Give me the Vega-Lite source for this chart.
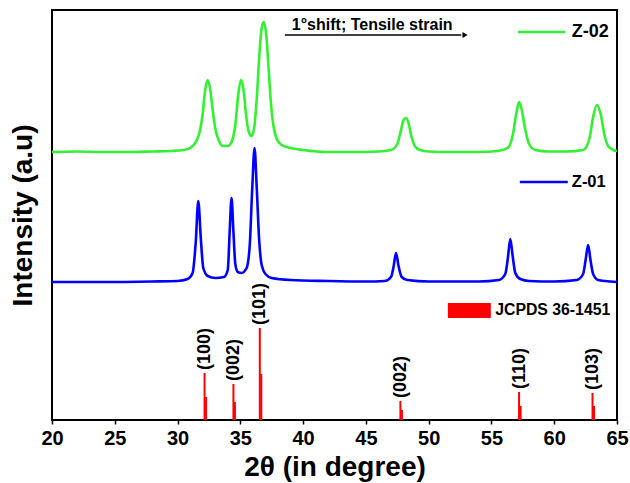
{
  "$schema": "https://vega.github.io/schema/vega-lite/v6.json",
  "width": 565,
  "height": 410,
  "autosize": "none",
  "padding": {"left": 52, "top": 10, "right": 13, "bottom": 63},
  "background": "white",
  "config": {
    "view": {"stroke": "black", "strokeWidth": 2},
    "font": "Liberation Sans",
    "axis": {
      "labelFont": "Liberation Sans", "labelFontWeight": "bold", "labelFontSize": 20, "labelColor": "black",
      "titleFont": "Liberation Sans", "titleFontWeight": "bold", "titleFontSize": 28, "titleColor": "black",
      "grid": false, "domain": false, "tickColor": "black", "tickWidth": 1.5, "labelFlush": false
    }
  },
  "datasets": {
    "curves": [
      {"s":"Z-02","x":20,"y":268},{"s":"Z-02","x":22,"y":268.5},{"s":"Z-02","x":24,"y":268},{"s":"Z-02","x":26,"y":268},{"s":"Z-02","x":28,"y":268.5},{"s":"Z-02","x":29.5,"y":269},{"s":"Z-02","x":30.5,"y":270},{"s":"Z-02","x":31.0,"y":272},{"s":"Z-02","x":31.5,"y":279},{"s":"Z-02","x":31.8,"y":290},{"s":"Z-02","x":32.0,"y":306},{"s":"Z-02","x":32.2,"y":330},{"s":"Z-02","x":32.4,"y":340},{"s":"Z-02","x":32.6,"y":331},{"s":"Z-02","x":32.8,"y":310},{"s":"Z-02","x":33.0,"y":292},{"s":"Z-02","x":33.3,"y":279},{"s":"Z-02","x":33.6,"y":274},{"s":"Z-02","x":34.0,"y":274},{"s":"Z-02","x":34.3,"y":278},{"s":"Z-02","x":34.6,"y":295},{"s":"Z-02","x":34.85,"y":327},{"s":"Z-02","x":35.05,"y":340},{"s":"Z-02","x":35.25,"y":331},{"s":"Z-02","x":35.45,"y":306},{"s":"Z-02","x":35.65,"y":289},{"s":"Z-02","x":35.9,"y":284},{"s":"Z-02","x":36.1,"y":292},{"s":"Z-02","x":36.3,"y":320},{"s":"Z-02","x":36.5,"y":362},{"s":"Z-02","x":36.7,"y":392},{"s":"Z-02","x":36.87,"y":398},{"s":"Z-02","x":37.05,"y":387},{"s":"Z-02","x":37.25,"y":352},{"s":"Z-02","x":37.45,"y":315},{"s":"Z-02","x":37.65,"y":293},{"s":"Z-02","x":37.9,"y":281},{"s":"Z-02","x":38.3,"y":275},{"s":"Z-02","x":39,"y":272},{"s":"Z-02","x":40,"y":270},{"s":"Z-02","x":42,"y":268},{"s":"Z-02","x":44,"y":268},{"s":"Z-02","x":46,"y":268.5},{"s":"Z-02","x":47.0,"y":270},{"s":"Z-02","x":47.5,"y":276},{"s":"Z-02","x":47.8,"y":290},{"s":"Z-02","x":48.0,"y":300},{"s":"Z-02","x":48.2,"y":302},{"s":"Z-02","x":48.4,"y":297},{"s":"Z-02","x":48.6,"y":285},{"s":"Z-02","x":48.9,"y":274},{"s":"Z-02","x":49.3,"y":270},{"s":"Z-02","x":50,"y":268.5},{"s":"Z-02","x":52,"y":268},{"s":"Z-02","x":54,"y":268},{"s":"Z-02","x":55.5,"y":269},{"s":"Z-02","x":56.3,"y":272},{"s":"Z-02","x":56.7,"y":285},{"s":"Z-02","x":57.0,"y":308},{"s":"Z-02","x":57.2,"y":318},{"s":"Z-02","x":57.4,"y":311},{"s":"Z-02","x":57.7,"y":290},{"s":"Z-02","x":58.0,"y":276},{"s":"Z-02","x":58.5,"y":270},{"s":"Z-02","x":59.5,"y":268.5},{"s":"Z-02","x":61,"y":268.5},{"s":"Z-02","x":62.3,"y":270},{"s":"Z-02","x":62.8,"y":281},{"s":"Z-02","x":63.1,"y":303},{"s":"Z-02","x":63.4,"y":315},{"s":"Z-02","x":63.7,"y":306},{"s":"Z-02","x":64.0,"y":285},{"s":"Z-02","x":64.3,"y":274},{"s":"Z-02","x":64.7,"y":270},{"s":"Z-02","x":65,"y":269},
      {"s":"Z-01","x":20,"y":138},{"s":"Z-01","x":24,"y":138},{"s":"Z-01","x":28,"y":138.5},{"s":"Z-01","x":30,"y":139},{"s":"Z-01","x":30.8,"y":141},{"s":"Z-01","x":31.2,"y":147},{"s":"Z-01","x":31.45,"y":178},{"s":"Z-01","x":31.65,"y":219},{"s":"Z-01","x":31.85,"y":182},{"s":"Z-01","x":32.05,"y":152},{"s":"Z-01","x":32.4,"y":144},{"s":"Z-01","x":33,"y":142},{"s":"Z-01","x":33.7,"y":143},{"s":"Z-01","x":34.0,"y":150},{"s":"Z-01","x":34.15,"y":188},{"s":"Z-01","x":34.3,"y":222},{"s":"Z-01","x":34.45,"y":188},{"s":"Z-01","x":34.6,"y":156},{"s":"Z-01","x":34.8,"y":148},{"s":"Z-01","x":35.1,"y":147},{"s":"Z-01","x":35.5,"y":152},{"s":"Z-01","x":35.75,"y":175},{"s":"Z-01","x":35.95,"y":232},{"s":"Z-01","x":36.13,"y":272},{"s":"Z-01","x":36.3,"y":234},{"s":"Z-01","x":36.5,"y":180},{"s":"Z-01","x":36.7,"y":155},{"s":"Z-01","x":37.0,"y":146},{"s":"Z-01","x":37.5,"y":142},{"s":"Z-01","x":39,"y":140},{"s":"Z-01","x":42,"y":139},{"s":"Z-01","x":45,"y":138.5},{"s":"Z-01","x":46.5,"y":139},{"s":"Z-01","x":47.0,"y":143},{"s":"Z-01","x":47.2,"y":153},{"s":"Z-01","x":47.4,"y":167},{"s":"Z-01","x":47.6,"y":154},{"s":"Z-01","x":47.85,"y":143},{"s":"Z-01","x":48.3,"y":140},{"s":"Z-01","x":50,"y":138.5},{"s":"Z-01","x":54,"y":138.5},{"s":"Z-01","x":55.6,"y":140},{"s":"Z-01","x":56.1,"y":146},{"s":"Z-01","x":56.3,"y":161},{"s":"Z-01","x":56.5,"y":181},{"s":"Z-01","x":56.7,"y":163},{"s":"Z-01","x":56.9,"y":147},{"s":"Z-01","x":57.3,"y":141},{"s":"Z-01","x":58,"y":139},{"s":"Z-01","x":60,"y":138.5},{"s":"Z-01","x":61.8,"y":140},{"s":"Z-01","x":62.3,"y":146},{"s":"Z-01","x":62.5,"y":160},{"s":"Z-01","x":62.7,"y":175},{"s":"Z-01","x":62.9,"y":159},{"s":"Z-01","x":63.1,"y":146},{"s":"Z-01","x":63.5,"y":140},{"s":"Z-01","x":64.5,"y":138.5},{"s":"Z-01","x":65,"y":138}
    ],
    "jcpds": [
      {"x":32.15,"y":47},{"x":32.27,"y":23},
      {"x":34.45,"y":36},{"x":34.57,"y":18},
      {"x":36.55,"y":92},{"x":36.67,"y":46},
      {"x":47.75,"y":19},{"x":47.87,"y":10},
      {"x":57.2,"y":28},{"x":57.32,"y":14},
      {"x":63.05,"y":27},{"x":63.17,"y":14}
    ],
    "hkl": [
      {"x":32.2,"y":47,"t":"(100)"},
      {"x":34.5,"y":36,"t":"(002)"},
      {"x":36.6,"y":92,"t":"(101)"},
      {"x":47.8,"y":19,"t":"(002)"},
      {"x":57.25,"y":28,"t":"(110)"},
      {"x":63.1,"y":27,"t":"(103)"}
    ],
    "legendLines": [
      {"s":"Z-02","x":57.1,"x2":60.9,"y":388},
      {"s":"Z-01","x":57.26,"x2":61.08,"y":238}
    ],
    "legendText": [
      {"x":61.4,"y":388,"t":"Z-02","fs":18},
      {"x":61.4,"y":238,"t":"Z-01","fs":16.5},
      {"x":55.3,"y":110,"t":"JCPDS 36-1451","fs":15.8}
    ],
    "legendRect": [{"x":51.53,"x2":54.95,"y":102,"y2":117}],
    "arrowLine": [{"x":38.55,"x2":52.6,"y":385}],
    "arrowHead": [{"x":52.9,"y":385}],
    "note": [{"x":39.1,"y":395,"t":"1°shift; Tensile strain"}]
  },
  "layer": [
    {
      "data": {"name": "curves"},
      "mark": {"type": "line", "strokeWidth": 2.6, "interpolate": "monotone"},
      "encoding": {
        "x": {"field": "x", "type": "quantitative", "scale": {"domain": [20, 65], "nice": false, "zero": false},
              "axis": {"values": [20,22.5,25,27.5,30,32.5,35,37.5,40,42.5,45,47.5,50,52.5,55,57.5,60,62.5,65],
                       "labelExpr": "datum.value % 5 === 0 ? datum.label : ''",
                       "title": "2θ (in degree)", "tickSize": 4, "labelPadding": 4, "titlePadding": 5}},
        "y": {"field": "y", "type": "quantitative", "scale": {"domain": [0, 410], "nice": false, "zero": false},
              "axis": {"title": "Intensity (a.u)", "labels": false, "ticks": false, "titlePadding": 15}},
        "color": {"field": "s", "type": "nominal", "scale": {"domain": ["Z-02","Z-01"], "range": ["#33f033","#0000ff"]}, "legend": null},
        "detail": {"field": "s"}
      }
    },
    {
      "data": {"name": "jcpds"},
      "mark": {"type": "rule", "color": "#ff0000", "strokeWidth": 2},
      "encoding": {
        "x": {"field": "x", "type": "quantitative"},
        "y": {"field": "y", "type": "quantitative"},
        "y2": {"datum": 0}
      }
    },
    {
      "data": {"name": "hkl"},
      "mark": {"type": "text", "angle": -90, "align": "left", "baseline": "middle", "dx": 3, "font": "Liberation Sans", "fontWeight": "bold", "fontSize": 18, "color": "black"},
      "encoding": {
        "x": {"field": "x", "type": "quantitative"},
        "y": {"field": "y", "type": "quantitative"},
        "text": {"field": "t"}
      }
    },
    {
      "data": {"name": "legendLines"},
      "mark": {"type": "rule", "strokeWidth": 2.6},
      "encoding": {
        "x": {"field": "x", "type": "quantitative"},
        "x2": {"field": "x2"},
        "y": {"field": "y", "type": "quantitative"},
        "color": {"field": "s", "type": "nominal", "legend": null}
      }
    },
    {
      "data": {"name": "legendRect"},
      "mark": {"type": "rect", "color": "#ff0000"},
      "encoding": {
        "x": {"field": "x", "type": "quantitative"},
        "x2": {"field": "x2"},
        "y": {"field": "y", "type": "quantitative"},
        "y2": {"field": "y2"}
      }
    },
    {
      "data": {"name": "legendText"},
      "mark": {"type": "text", "align": "left", "baseline": "middle", "font": "Liberation Sans", "fontWeight": "bold", "color": "black"},
      "encoding": {
        "x": {"field": "x", "type": "quantitative"},
        "y": {"field": "y", "type": "quantitative"},
        "text": {"field": "t"},
        "size": {"field": "fs", "type": "quantitative", "scale": null, "legend": null}
      }
    },
    {
      "data": {"name": "arrowLine"},
      "mark": {"type": "rule", "color": "black", "strokeWidth": 1.5},
      "encoding": {
        "x": {"field": "x", "type": "quantitative"},
        "x2": {"field": "x2"},
        "y": {"field": "y", "type": "quantitative"}
      }
    },
    {
      "data": {"name": "arrowHead"},
      "mark": {"type": "point", "shape": "triangle-right", "filled": true, "color": "black", "size": 35, "opacity": 1},
      "encoding": {
        "x": {"field": "x", "type": "quantitative"},
        "y": {"field": "y", "type": "quantitative"}
      }
    },
    {
      "data": {"name": "note"},
      "mark": {"type": "text", "align": "left", "baseline": "middle", "font": "Liberation Sans", "fontWeight": "bold", "fontSize": 16, "color": "black"},
      "encoding": {
        "x": {"field": "x", "type": "quantitative"},
        "y": {"field": "y", "type": "quantitative"},
        "text": {"field": "t"}
      }
    }
  ]
}
